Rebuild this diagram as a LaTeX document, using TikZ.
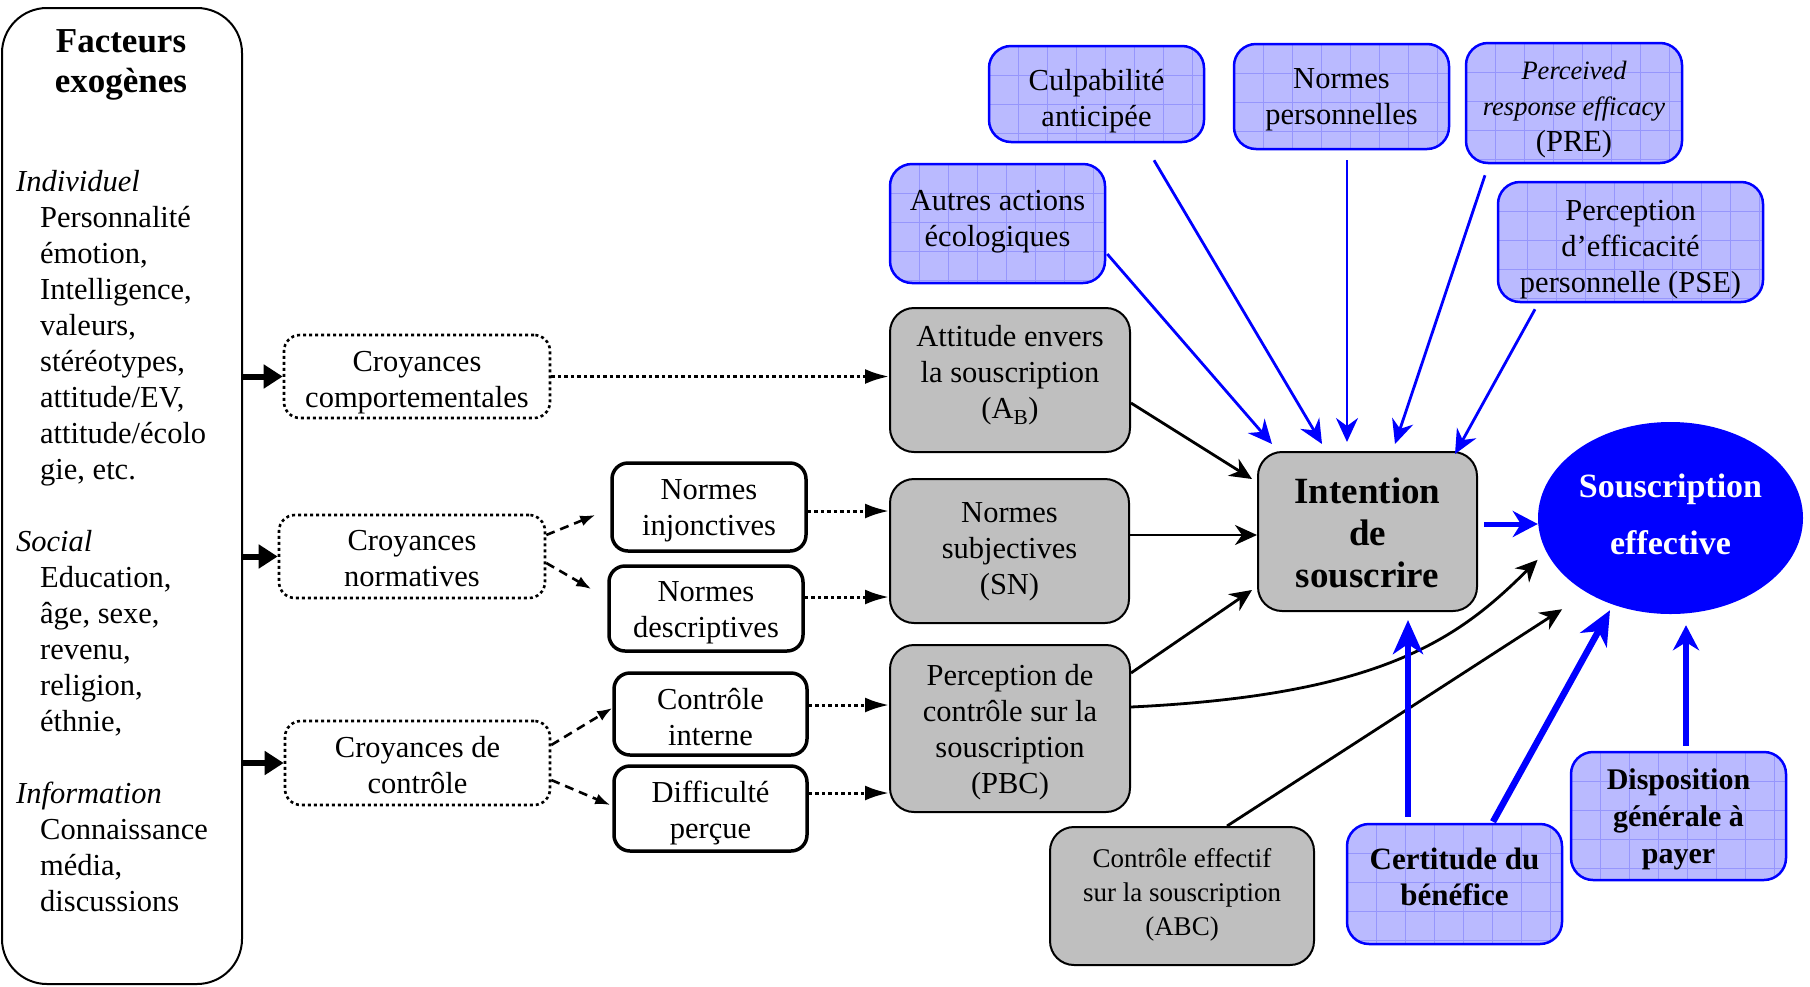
\documentclass[tikz,border=0pt]{standalone}
\usepackage{fontspec}
\setmainfont{Liberation Serif}
\usetikzlibrary{arrows.meta,shapes.geometric,calc}
\definecolor{boxgray}{RGB}{191,191,191}
\definecolor{pureblue}{RGB}{0,0,255}
\definecolor{lavender}{RGB}{186,186,255}
\definecolor{gridblue}{RGB}{150,150,252}
\newcommand{\listindent}{\hspace*{24pt}}

\begin{document}
\begin{tikzpicture}[x=1pt,y=-1pt,
  txt/.style={font=\fontsize{30.5}{36}\selectfont},
  dims/.style 2 args={minimum width=#1pt,minimum height=#2pt},
  lbl/.style={align=center,inner sep=0pt,txt},
  basebox/.style={rectangle,inner sep=0pt},
  dotbox/.style={basebox,draw,line width=2.6pt,dash pattern=on 3pt off 3pt,rounded corners=16pt},
  whitebox/.style={basebox,draw,line width=3.5pt,rounded corners=16pt},
  graybox/.style={basebox,draw,fill=boxgray,line width=2pt,rounded corners=24pt},
  bluebox/.style={basebox,draw=pureblue,fill=lavender,line width=2.5pt,rounded corners=22pt,
    path picture={
      \foreach \k in {1,...,12}{
        \draw[gridblue,line width=0.7pt]
          ([xshift=\k*29pt]path picture bounding box.north west) -- ([xshift=\k*29pt]path picture bounding box.south west)
          ([yshift=-\k*29pt]path picture bounding box.north west) -- ([yshift=-\k*29pt]path picture bounding box.north east);
      }}},
  thickarr/.style={line width=6pt,-{Triangle[length=19pt,width=23pt]}},
  dotarr/.style={line width=3pt,dash pattern=on 3.5pt off 3pt,-{Latex[length=24pt,width=15pt]}},
  dasharr/.style={line width=2.6pt,dash pattern=on 9pt off 6pt,-{Latex[length=15pt,width=11pt]}},
  blkarr/.style={line width=2.8pt,-{Stealth[length=22pt,width=20pt,inset=7pt]}},
  bluarr/.style={pureblue,line width=2.8pt,-{Stealth[length=24pt,width=22pt,inset=8pt]}},
  bluthick/.style={pureblue,line width=6.5pt,-{Stealth[length=34pt,width=30pt,inset=10pt]}},
  blumed/.style={pureblue,line width=5pt,-{Stealth[length=25pt,width=26pt,inset=8pt]}}
]
\useasboundingbox (0,0) rectangle (1810,986);

% exogenous factors column
\node[draw,line width=2pt,rounded corners=45pt,dims={240}{976}] (fact) at (122,496) {};
\node[font=\bfseries\fontsize{35}{40}\selectfont,align=center] (titre) at (121,65) {Facteurs\\exogènes};
\node[txt,align=left,anchor=north west,inner sep=0pt] (facteurs) at (16,170) {%
  \textit{Individuel}\\
  \listindent Personnalité\\
  \listindent émotion,\\
  \listindent Intelligence,\\
  \listindent valeurs,\\
  \listindent stéréotypes,\\
  \listindent attitude/EV,\\
  \listindent attitude/écolo\\
  \listindent gie, etc.\\[36pt]
  \textit{Social}\\
  \listindent Education,\\
  \listindent âge, sexe,\\
  \listindent revenu,\\
  \listindent religion,\\
  \listindent éthnie,\\[36pt]
  \textit{Information}\\
  \listindent Connaissance\\
  \listindent média,\\
  \listindent discussions};

% beliefs
\node[dotbox,dims={266}{83}] (cc) at (417,376.5) {};
\node[lbl,yshift=-6pt] (cc-t) at (cc) {Croyances\\comportementales};
\node[dotbox,dims={266}{83}] (cn) at (412,556.5) {};
\node[lbl,yshift=-2pt] (cn-t) at (cn) {Croyances\\normatives};
\node[dotbox,dims={265}{84}] (ck) at (417.5,763) {};
\node[lbl,yshift=-2pt] (ck-t) at (ck) {Croyances de\\contrôle};

\node[whitebox,dims={194}{88}] (ninj) at (709,507) {};
\node[lbl,yshift=-3.5pt] (ninj-t) at (ninj) {Normes\\injonctives};
\node[whitebox,dims={194}{85}] (ndesc) at (706,608.5) {};
\node[lbl,yshift=-4.5pt] (ndesc-t) at (ndesc) {Normes\\descriptives};
\node[whitebox,dims={193}{82}] (cint) at (710.5,714) {};
\node[lbl,yshift=-3.5pt] (cint-t) at (cint) {Contrôle\\interne};
\node[whitebox,dims={193}{85}] (diff) at (710.5,808.5) {};
\node[lbl,yshift=-4.5pt] (diff-t) at (diff) {Difficulté\\perçue};

% TPB constructs
\node[graybox,dims={240}{144}] (att) at (1010,380) {};
\node[lbl,yshift=4.5pt] (att-t) at (att) {Attitude envers\\la souscription\\(A\textsubscript{B})};
\node[graybox,dims={239}{144}] (sn) at (1009.5,551) {};
\node[lbl,yshift=-1pt] (sn-t) at (sn) {Normes\\subjectives\\(SN)};
\node[graybox,dims={240}{167}] (pbc) at (1010,728.5) {};
\node[lbl,yshift=-3.5pt] (pbc-t) at (pbc) {Perception de\\contrôle sur la\\souscription\\(PBC)};
\node[graybox,dims={264}{138}] (abc) at (1182,896) {};
\node[lbl,yshift=1pt,font=\fontsize{27}{34}\selectfont] (abc-t) at (abc) {Contrôle effectif\\sur la souscription\\(ABC)};
\node[graybox,dims={219}{159}] (int) at (1367.5,531.5) {};
\node[lbl,yshift=-1pt,font=\bfseries\fontsize{37}{42}\selectfont] (int-t) at (int) {Intention\\de\\souscrire};
\node[ellipse,fill=pureblue,inner sep=0pt,dims={265}{192}] (eff) at (1670.5,518) {};
\node[lbl,yshift=3.5pt,text=white,font=\bfseries\fontsize{34}{57}\selectfont] (eff-t) at (eff) {Souscription\\effective};

% extensions
\node[bluebox,dims={215}{119}] (aut) at (997.5,223.5) {};
\node[lbl,yshift=2pt] (aut-t) at (aut) {Autres actions\\écologiques};
\node[bluebox,dims={215}{96}] (cul) at (1096.5,94) {};
\node[lbl,yshift=-7pt] (cul-t) at (cul) {Culpabilité\\anticipée};
\node[bluebox,dims={215}{105}] (np) at (1341.5,96.5) {};
\node[lbl,yshift=-3pt] (np-t) at (np) {Normes\\personnelles};
\node[bluebox,dims={216}{120}] (pre) at (1574,103) {};
\node[lbl,yshift=-7pt] (pre-t) at (pre) {{\itshape\fontsize{26.5}{36}\selectfont Perceived}\\{\itshape\fontsize{26.5}{36}\selectfont response efficacy}\\(PRE)};
\node[bluebox,dims={265}{120}] (pse) at (1630.5,242) {};
\node[lbl,yshift=-8pt] (pse-t) at (pse) {Perception\\d’efficacité\\personnelle (PSE)};
\node[bluebox,dims={215}{120}] (cert) at (1454.5,884) {};
\node[lbl,yshift=7pt,font=\bfseries\fontsize{31}{36}\selectfont] (cert-t) at (cert) {Certitude du\\bénéfice};
\node[bluebox,dims={215}{128}] (disp) at (1678.5,816) {};
\node[lbl,yshift=-3.5pt,font=\bfseries\fontsize{30}{37}\selectfont] (disp-t) at (disp) {Disposition\\générale à\\payer};

% exogenous factors to beliefs
\draw[thickarr] (fact.east |- cc.west) -- (cc.west);
\draw[thickarr] (fact.east |- cn.west) -- (cn.west);
\draw[thickarr] (fact.east |- ck.west) -- (ck.west);

% beliefs to constructs
\draw[dotarr] (cc.east) -- (cc.east -| att.west);
\draw[dasharr] ([yshift=21.5pt]cn.east) -- ([xshift=-15pt,yshift=-8pt]ninj.west);
\draw[dasharr] ([yshift=-6.5pt]cn.east) -- ([xshift=-16pt,yshift=19.5pt]ndesc.west);
\draw[dasharr] ([yshift=18pt]ck.east) -- ([yshift=6pt]cint.west);
\draw[dasharr] ([yshift=-17pt]ck.east) -- ([xshift=-2pt,yshift=3.5pt]diff.west);
\draw[dotarr] ([yshift=-4pt]ninj.east) -- ([yshift=-4pt]ninj.east -| sn.west);
\draw[dotarr] ([yshift=11.5pt]ndesc.east) -- ([yshift=11.5pt]ndesc.east -| sn.west);
\draw[dotarr] ([yshift=9pt]cint.east) -- ([yshift=9pt]cint.east -| pbc.west);
\draw[dotarr] ([yshift=15.5pt]diff.east) -- ([yshift=15.5pt]diff.east -| pbc.west);

% constructs to intention and behaviour
\draw[blkarr] ([yshift=-23pt]att.east) -- ([xshift=-5pt,yshift=52.5pt]int.west);
\draw[blkarr] ([yshift=16pt]sn.east) -- ([yshift=16pt]sn.east -| int.west);
\draw[blkarr] ([yshift=55.5pt]pbc.east) -- ([xshift=-5pt,yshift=-58.5pt]int.west);
\draw[blkarr,shorten >=12pt] ([yshift=21.5pt]pbc.east) .. controls +(250,-12) and +(-88,88) .. (eff.195);
\draw[blkarr,shorten >=30pt] ([xshift=45pt]abc.north) -- (eff.222);
\draw[blumed,shorten <=6pt] ([yshift=7.5pt]int.east) -- ([yshift=7.5pt]int.east -| eff.west);

% extensions to intention
\draw[bluarr] ([xshift=1pt,yshift=-30.5pt]aut.east) -- ([xshift=15pt,yshift=7pt]int.north west);
\draw[bluarr] ([xshift=57.5pt,yshift=-17pt]cul.south) -- ([xshift=-45.5pt,yshift=7pt]int.north);
\draw[bluarr] ([xshift=5.5pt,yshift=-10pt]np.south) -- ([xshift=-20.5pt,yshift=9pt]int.north);
\draw[bluarr] ([xshift=-89pt,yshift=-11pt]pre.south) -- ([xshift=27.5pt,yshift=7pt]int.north);
\draw[bluarr] ([xshift=-95.5pt,yshift=-6pt]pse.south) -- ([xshift=-23pt,yshift=-3pt]int.north east);

% extensions to intention and behaviour (bottom)
\draw[bluthick] ([xshift=-46.5pt,yshift=6pt]cert.north) -- ([xshift=40.5pt,yshift=-8pt]int.south);
\draw[bluthick] ([xshift=38.5pt,yshift=1pt]cert.north) -- ([xshift=-60.5pt,yshift=4pt]eff.south);
\draw[blumed,line width=5.5pt] ([xshift=7.5pt,yshift=5pt]disp.north) -- ([xshift=15.5pt,yshift=-11pt]eff.south);
\end{tikzpicture}
\end{document}
